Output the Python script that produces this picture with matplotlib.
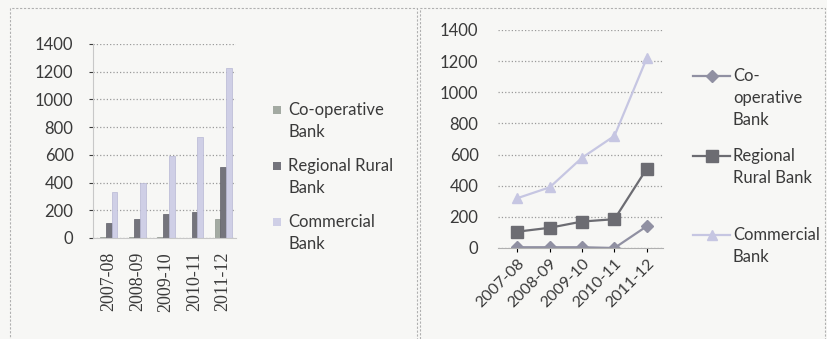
import matplotlib.pyplot as plt
import matplotlib.patches as mpatches
from matplotlib.lines import Line2D
import numpy as np

plt.rcParams['font.family'] = ['Lato', 'DejaVu Sans']

years = ['2007-08', '2008-09', '2009-10', '2010-11', '2011-12']
coop = [10, 8, 8, 2, 140]
regional = [110, 140, 175, 190, 510]
commercial = [330, 400, 590, 730, 1230]

coop_line = [5, 5, 5, 0, 140]
regional_line = [105, 130, 170, 185, 510]
commercial_line = [320, 390, 580, 720, 1220]

labels_bar = ['Co-operative\nBank', 'Regional Rural\nBank', 'Commercial\nBank']
labels_line = ['Co-\noperative\nBank', 'Regional\nRural Bank', 'Commercial\nBank']

c_coop = '#a3aaa2'
c_reg = '#74747c'
c_com = '#cfcfe6'
l_coop = '#9090a2'
l_reg = '#6c6c72'
l_com = '#c6c6e2'
bg = '#f7f7f5'
txt = '#3a3a3a'
fs = 12

W, H = 827, 339
fig = plt.figure(figsize=(W/100, H/100), dpi=100, facecolor=bg)

def px(x, y):
    return x / W, 1 - y / H

# panel borders
for x0, w in [(0.012, 0.492), (0.508, 0.49)]:
    fig.patches.append(mpatches.Rectangle((x0, -0.01), w, 0.985, transform=fig.transFigure,
                                          fill=False, ec='#b0b0b0', lw=0.8, ls=(0, (2, 1.5))))

def legend_text(x, y, label):
    # excel style: handle on first line, 22 px line step
    for i, line in enumerate(label.split('\n')):
        fig.text(*px(x, y + 22*i), line, fontsize=fs, color=txt, va='center', ha='left')

# ---- left: bar chart
ax1 = fig.add_axes([93/W, 1-238/H, 143/W, 194/H], facecolor=bg)
x = np.arange(len(years))
w = 0.2
ax1.bar(x - w, coop, w, color=c_coop, edgecolor='#8f968e', lw=0.5)
ax1.bar(x, regional, w, color=c_reg, edgecolor='#606068', lw=0.5)
ax1.bar(x + w, commercial, w, color=c_com, edgecolor='#b8b8d4', lw=0.5)
ax1.set_xlim(-0.55, 4.45)
ax1.set_ylim(0, 1400)
ax1.set_yticks(range(0, 1401, 200))
ax1.set_xticks(x)
ax1.set_xticklabels(years, rotation=90, fontsize=13, color=txt, family='Liberation Serif')
ax1.tick_params(axis='y', labelsize=fs, colors=txt, length=3, pad=11)
ax1.tick_params(axis='x', length=0, pad=10)
ax1.yaxis.grid(True, color='#9a9a9a', ls=':', lw=0.9)
ax1.set_axisbelow(True)
for s in ['top', 'right']:
    ax1.spines[s].set_visible(False)
ax1.spines['left'].set_color('#c8c8c8')
ax1.spines['bottom'].set_color('#c8c8c8')

for yy, col, lab in zip([110, 166, 222], [c_coop, c_reg, c_com], labels_bar):
    fig.patches.append(mpatches.Rectangle(px(273, yy + 4), 8/W, 8/H, transform=fig.transFigure,
                                          fc=col, ec='none'))
    legend_text(288, yy, lab)

# ---- right: line chart
ax2 = fig.add_axes([498/W, 1-248/H, 165/W, 218/H], facecolor=bg)
ax2.plot(x, coop_line, color=l_coop, marker='D', ms=6, lw=1.6)
ax2.plot(x, regional_line, color=l_reg, marker='s', ms=9, lw=1.6)
ax2.plot(x, commercial_line, color=l_com, marker='^', ms=7, lw=1.6)
ax2.set_xlim(-0.6, 4.5)
ax2.set_ylim(0, 1400)
ax2.set_yticks(range(0, 1401, 200))
ax2.set_xticks(x)
ax2.set_xticklabels(years, rotation=45, ha='right', rotation_mode='anchor', fontsize=11.5, color=txt)
ax2.tick_params(axis='y', labelsize=fs, colors=txt, length=0, pad=14)
ax2.tick_params(axis='x', length=3, pad=3)
ax2.yaxis.grid(True, color='#9a9a9a', ls=':', lw=0.9)
ax2.set_axisbelow(True)
for s in ['top', 'right', 'left']:
    ax2.spines[s].set_visible(False)
ax2.spines['bottom'].set_color('#b0b0b0')

for yy, col, mk, ms, lab in zip([76, 156, 235], [l_coop, l_reg, l_com], ['D', 's', '^'],
                                [6, 9, 7], labels_line):
    fig.add_artist(Line2D([693/W, 730/W], [1 - yy/H]*2, transform=fig.transFigure,
                          color=col, lw=1.6))
    fig.add_artist(Line2D([711.5/W], [1 - yy/H], transform=fig.transFigure,
                          color=col, marker=mk, ms=ms))
    legend_text(733, yy, lab)

fig.savefig('out.png', dpi=100, facecolor=bg)
